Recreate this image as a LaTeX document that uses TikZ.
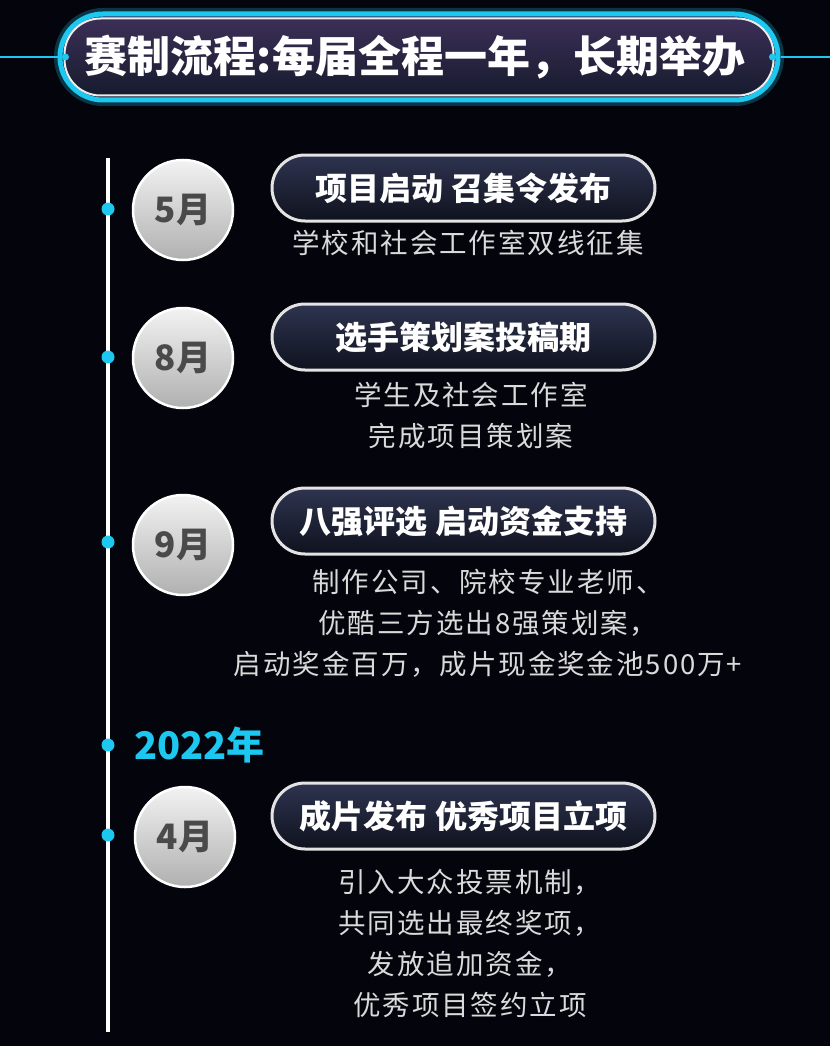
\documentclass[tikz,border=0pt]{standalone}
\usepackage{fontspec}
\newfontfamily\cjk{Noto Sans CJK SC}
\newfontfamily\cjkls[LetterSpace=7]{Noto Sans CJK SC}
\definecolor{bg}{HTML}{04040C}
\definecolor{cyanl}{HTML}{1CC8F0}
\definecolor{pilltop}{HTML}{2E3450}
\definecolor{pillbot}{HTML}{0F121E}
\definecolor{titletop}{HTML}{3E3058}
\definecolor{titlebot}{HTML}{141A2C}
\definecolor{subtxt}{HTML}{DADADA}
\definecolor{monthtxt}{HTML}{4A4A4A}
\tikzset{
  pillbox/.style={rounded corners=33pt, minimum width=383pt, minimum height=66pt, inner sep=0pt,
    draw=gray!22, line width=3pt, top color=pilltop, bottom color=pillbot, text=white,
    font=\cjk\bfseries\fontsize{32}{32}\selectfont},
  monthcirc/.style={circle, minimum size=100pt, inner sep=0pt, draw=white, line width=2.5pt,
    top color=gray!10, bottom color=gray!62, text=monthtxt,
    font=\cjk\bfseries\fontsize{35}{35}\selectfont},
  tldot/.style={circle, fill=cyanl, minimum size=13pt, inner sep=0pt},
  subtext/.style={text=subtxt, font=\cjkls\fontsize{27.5}{41}\selectfont, align=center, inner sep=0pt},
  tline/.style={draw=white, line width=4pt},
  cline/.style={draw=cyanl, line width=2.5pt}
}
\begin{document}
\begin{tikzpicture}[x=1pt, y=-1pt]
\fill[bg] (0,0) rectangle (830,1046);
\useasboundingbox (0,0) rectangle (830,1046);
% title
\coordinate (LL) at (0,57);
\coordinate (RR) at (830,57);
\draw[cyanl, opacity=0.25, line width=12pt, rounded corners=43pt] (60,14) rectangle (778,100);
\node[rounded corners=43pt, minimum width=718pt, minimum height=86pt, inner sep=0pt,
  draw=cyanl, line width=5pt, top color=titletop, bottom color=titlebot] (T) at (419,57) {};
\draw[white!85!gray, line width=2pt, rounded corners=36pt] ([shift={(7,7)}]T.north west) rectangle ([shift={(-7,-7)}]T.south east);
\draw[cline] (LL) -- (T.west);
\draw[cline] (T.east) -- (RR);
\node[circle, fill=cyanl, minimum size=7pt, inner sep=0pt] (TL) at ([xshift=8pt]T.west) {};
\node[circle, fill=cyanl, minimum size=7pt, inner sep=0pt] (TR) at ([xshift=-8pt]T.east) {};
\node[text=white, font=\cjk\bfseries\fontsize{43}{43}\selectfont, inner sep=0pt] (TT) at (415,57) {赛制流程:每届全程一年，长期举办};
% timeline
\coordinate (LT) at (108,158);
\coordinate (LB) at (108,1032);
\draw[tline] (LT) -- (LB);
\node[tldot] (D1) at (108,209) {};
\node[tldot] (D2) at (108,357) {};
\node[tldot] (D3) at (108,542) {};
\node[tldot] (D4) at (108,745) {};
\node[tldot] (D5) at (108,835) {};
% months
\node[monthcirc] (M1) at (183,210) {5月};
\node[monthcirc] (M2) at (183,358) {8月};
\node[monthcirc] (M3) at (183,545) {9月};
\node[monthcirc] (M4) at (185,837) {4月};
\node[anchor=west, text=cyanl, font=\cjk\bfseries\fontsize{38}{38}\selectfont, inner sep=0pt] (Y) at (134,745) {2022年};
% pills
\node[pillbox] (P1) at (463.5,188) {项目启动 召集令发布};
\node[pillbox] (P2) at (463.5,337) {选手策划案投稿期};
\node[pillbox] (P3) at (463.5,521) {八强评选 启动资金支持};
\node[pillbox] (P4) at (463.5,816) {成片发布 优秀项目立项};
% descriptions
\node[subtext] (S1) at (468,243) {学校和社会工作室双线征集};
\node[subtext] (S2) at (471,416) {学生及社会工作室\\完成项目策划案};
\node[subtext] (S3) at (488,623) {制作公司、院校专业老师、\\优酷三方选出8强策划案，\\启动奖金百万，成片现金奖金池500万+};
\node[subtext] (S4) at (470,943) {引入大众投票机制，\\共同选出最终奖项，\\发放追加资金，\\优秀项目签约立项};
\end{tikzpicture}
\end{document}
